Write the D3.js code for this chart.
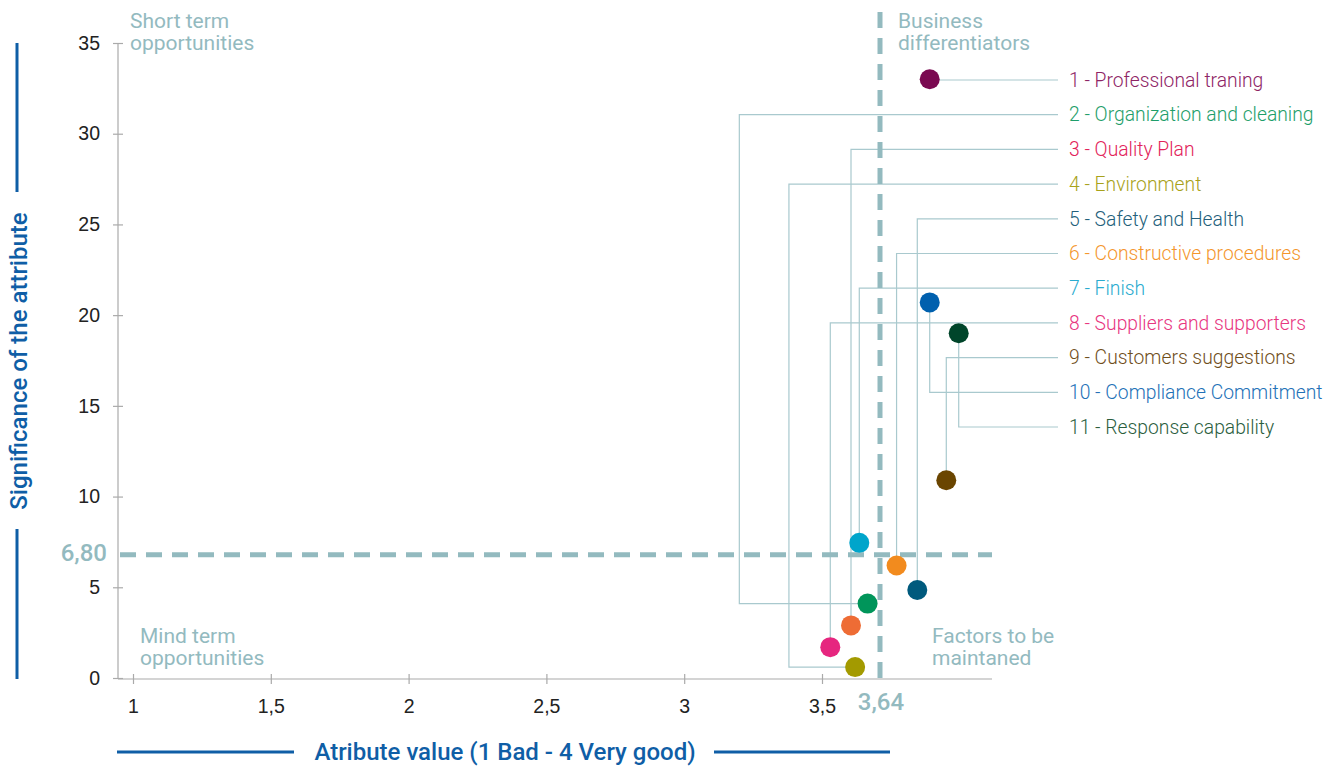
<!DOCTYPE html>
<html>
<head>
<meta charset="utf-8">
<script src="https://cdn.jsdelivr.net/npm/d3@7"></script>
<style>
  html, body { margin: 0; padding: 0; background: #fff; }
  svg { display: block; font-family: Roboto, "Liberation Sans", sans-serif; }
</style>
</head>
<body>
<svg width="1325" height="766"></svg>
<script>
// data
const attributes = [
  "1 - Professional traning",
  "2 - Organization and cleaning",
  "3 - Quality Plan",
  "4 - Environment",
  "5 - Safety and Health",
  "6 - Constructive procedures",
  "7 - Finish",
  "8 - Suppliers and supporters",
  "9 - Customers suggestions",
  "10 - Compliance Commitment",
  "11 - Response capability"
];
const attributeValue = [3.76, 3.61, 3.57, 3.58, 3.73, 3.68, 3.59, 3.52, 3.80, 3.76, 3.83];
const significance   = [33.0, 4.1, 2.9, 0.6, 4.85, 6.2, 7.45, 1.7, 10.9, 20.7, 19.0];

const dotColors  = ["#7a0951", "#00955a", "#ee6c35", "#a39a00", "#005a7d", "#f28b1e",
                    "#00a5cb", "#e6267f", "#6a4500", "#0060ae", "#00452a"];
const textColors = ["#8e2465", "#1e9e6a", "#e2235a", "#a8a21a", "#245f7b", "#f4962c",
                    "#29abcf", "#e8367f", "#6f4e1a", "#2371b7", "#2b5e3e"];

// leader lines that bend left before dropping down (x value of the bend)
const leaderBend = {1: 3.2, 3: 3.38};

const xTicks = [1, 1.5, 2, 2.5, 3, 3.5];
const yTicks = [0, 5, 10, 15, 20, 25, 30, 35];
const xThreshold = 3.64;
const yThreshold = 6.80;

const quadrantLabels = [
  {lines: ["Short term", "opportunities"], x: 130, y: 28},
  {lines: ["Business", "differentiators"], x: 898, y: 28},
  {lines: ["Mind term", "opportunities"], x: 140, y: 643},
  {lines: ["Factors to be", "maintaned"], x: 932, y: 643}
];

const svg = d3.select("svg");

const axisLeftX = 118;
const axisRight = 992;

// the original's x axis is stretched right of 3,5
const x = d3.scaleLinear()
  .domain([1, 3.5, xThreshold])
  .range([133, 822, 880]);

const y = d3.scaleLinear()
  .domain([0, 35])
  .range([678, 43]);

const fmt = d => String(d).replace(".", ",");

const teal = "#93babf";
const blue = "#0f5ea6";
const leaderColor = "#a9c9ce";

// AXES

const yAxis = svg.append("g")
  .attr("transform", `translate(${axisLeftX},0)`)
  .call(d3.axisLeft(y).tickValues(yTicks).tickSize(5).tickPadding(13).tickFormat(fmt));

const xAxis = svg.append("g")
  .attr("transform", `translate(0,${y(0) + 1})`)
  .call(d3.axisBottom(x).tickValues(xTicks).tickSize(5).tickPadding(15).tickFormat(fmt));

[yAxis, xAxis].forEach(g => {
  g.select(".domain").remove();
  g.selectAll("line").attr("stroke", "#aaa").attr("stroke-width", 1.2);
  g.selectAll("text")
    .attr("fill", "#222")
    .style("font-size", "19.5px")
    .style("font-weight", 300);
});
yAxis.selectAll("line").attr("x1", 5);
xAxis.selectAll("line").attr("y1", -5);

svg.append("line")
  .attr("x1", axisLeftX).attr("x2", axisLeftX)
  .attr("y1", y(35)).attr("y2", y(0) + 1)
  .attr("stroke", "#aaa").attr("stroke-width", 1.2);

svg.append("line")
  .attr("x1", axisLeftX).attr("x2", axisRight)
  .attr("y1", y(0) + 1).attr("y2", y(0) + 1)
  .attr("stroke", "#aaa").attr("stroke-width", 1.2);

// AXIS TITLES

svg.append("text")
  .attr("transform", `translate(27,${361}) rotate(-90)`)
  .attr("text-anchor", "middle")
  .attr("fill", blue)
  .style("font-size", "24px")
  .style("font-weight", 500)
  .text("Significance of the attribute");

svg.append("line").attr("x1", 17).attr("x2", 17).attr("y1", 43).attr("y2", 192)
  .attr("stroke", blue).attr("stroke-width", 3);
svg.append("line").attr("x1", 17).attr("x2", 17).attr("y1", 529).attr("y2", 679)
  .attr("stroke", blue).attr("stroke-width", 3);

svg.append("text")
  .attr("x", 505)
  .attr("y", 760)
  .attr("text-anchor", "middle")
  .attr("fill", blue)
  .style("font-size", "24px")
  .style("font-weight", 500)
  .text("Atribute value (1 Bad - 4 Very good)");

svg.append("line").attr("x1", 117).attr("x2", 294).attr("y1", 752).attr("y2", 752)
  .attr("stroke", blue).attr("stroke-width", 3);
svg.append("line").attr("x1", 714).attr("x2", 890).attr("y1", 752).attr("y2", 752)
  .attr("stroke", blue).attr("stroke-width", 3);

// QUADRANT LABELS

quadrantLabels.forEach(q => {
  const t = svg.append("text")
    .attr("fill", teal)
    .style("font-size", "21px");
  q.lines.forEach((line, i) => {
    t.append("tspan").attr("x", q.x).attr("y", q.y + i * 22).text(line);
  });
});

// LEADER LINES

const legendX = 1058;
const legendY = i => 80 + i * 34.7;

svg.append("g")
  .selectAll("path")
  .data(attributes)
  .join("path")
  .attr("fill", "none")
  .attr("stroke", leaderColor)
  .attr("stroke-width", 1.2)
  .attr("d", (d, i) => {
    const px = x(attributeValue[i]);
    const py = y(significance[i]);
    const ly = legendY(i);
    if (leaderBend[i] !== undefined) {
      const bx = x(leaderBend[i]);
      return `M${legendX},${ly}H${bx}V${py}H${px}`;
    }
    return `M${legendX},${ly}H${px}V${py}`;
  });

svg.append("g")
  .selectAll("text")
  .data(attributes)
  .join("text")
  .attr("x", legendX + 11)
  .attr("y", (d, i) => legendY(i))
  .attr("dy", "0.35em")
  .attr("fill", (d, i) => textColors[i])
  .style("font-size", "19.3px")
  .style("font-weight", 300)
  .text(d => d);

// THRESHOLD LINES

svg.append("line")
  .attr("x1", axisLeftX + 2).attr("x2", axisRight)
  .attr("y1", y(yThreshold)).attr("y2", y(yThreshold))
  .attr("stroke", teal).attr("stroke-width", 5)
  .attr("stroke-dasharray", "16,10");

svg.append("line")
  .attr("x1", x(xThreshold)).attr("x2", x(xThreshold))
  .attr("y1", 12).attr("y2", y(0) + 1)
  .attr("stroke", teal).attr("stroke-width", 5)
  .attr("stroke-dasharray", "16,10");

svg.append("text")
  .attr("x", 107)
  .attr("y", y(yThreshold) - 2)
  .attr("dy", "0.35em")
  .attr("text-anchor", "end")
  .attr("fill", teal)
  .style("font-size", "24px")
  .style("font-weight", 500)
  .text(fmt(yThreshold.toFixed(2)));

svg.append("text")
  .attr("x", x(xThreshold) + 1)
  .attr("y", 710)
  .attr("text-anchor", "middle")
  .attr("fill", teal)
  .style("font-size", "24px")
  .style("font-weight", 500)
  .text(fmt(xThreshold));

// DOTS

svg.append("g")
  .selectAll("circle")
  .data(attributes)
  .join("circle")
  .attr("cx", (d, i) => x(attributeValue[i]))
  .attr("cy", (d, i) => y(significance[i]))
  .attr("r", 10)
  .attr("fill", (d, i) => dotColors[i]);
</script>
</body>
</html>
